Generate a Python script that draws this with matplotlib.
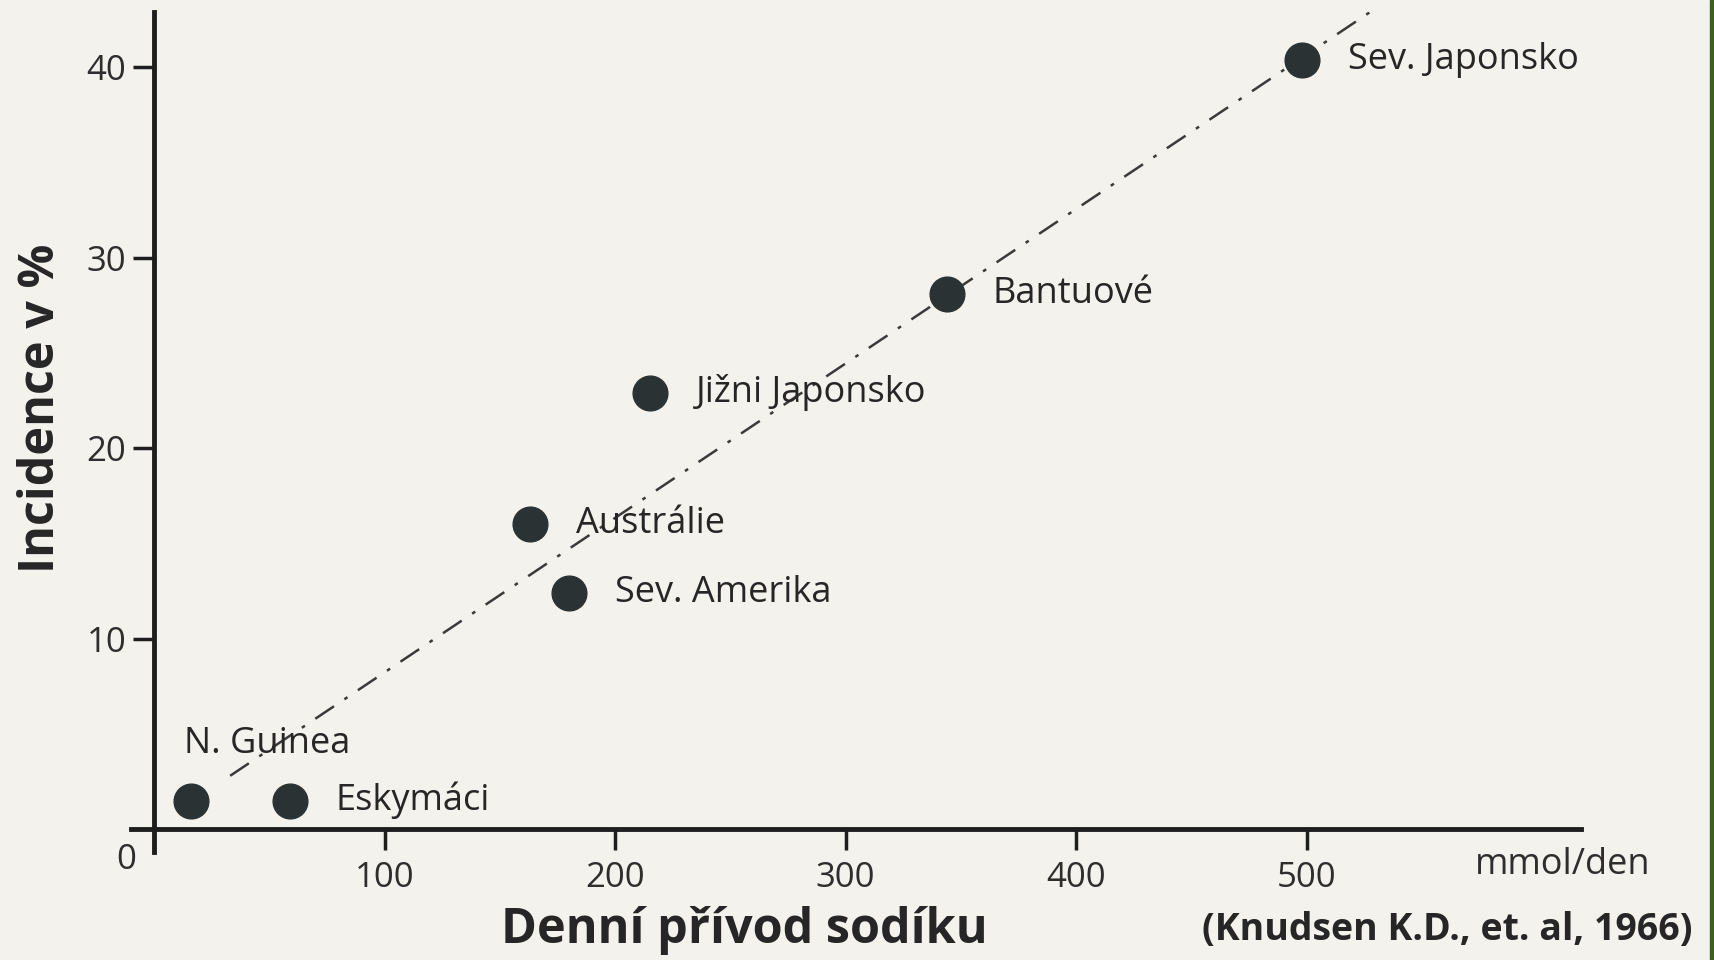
import matplotlib
matplotlib.use('Agg')
import matplotlib.pyplot as plt
from matplotlib.patches import Rectangle

# data
sodium = [16, 59, 163, 180, 215, 344, 498]
incidence = [1.5, 1.5, 16.0, 12.4, 22.9, 28.1, 40.4]
names = ['N. Guinea', 'Eskymáci', 'Austrálie', 'Sev. Amerika',
         'Jižni Japonsko', 'Bantuové', 'Sev. Japonsko']

# trend line end points
trend_x = [33, 530]
trend_y = [2.8, 43.1]

x_ticks = [100, 200, 300, 400, 500]
y_ticks = [10, 20, 30, 40]

bg = '#f3f2ec'
ink = '#262626'
plt.rcParams['font.family'] = ['Open Sans', 'DejaVu Sans']

fig = plt.figure(figsize=(17.15, 9.6), dpi=100, facecolor=bg)
ax = fig.add_axes([0.0764, 0.1125, 0.8455, 0.875])
ax.set_facecolor(bg)

ax.plot(trend_x, trend_y, color='#3a3a3a', lw=1.8,
        linestyle=(0, (9, 5, 1.5, 5)), zorder=1)
ax.plot(sodium, incidence, 'o', ms=25, color='#2b3234', zorder=3)

# point labels
for name, x, y in zip(names, sodium, incidence):
    if name == 'N. Guinea':
        off = (-5, 41)
    else:
        off = (33, 0)
    ax.annotate(name, (x, y), xytext=off, textcoords='offset points',
                ha='left', va='center', fontsize=26, color=ink)

ax.set_xlim(-10, 619)
ax.set_ylim(-1.2, 42.9)

for s in ['top', 'right']:
    ax.spines[s].set_visible(False)
ax.spines['left'].set_position(('data', 0))
ax.spines['bottom'].set_position(('data', 0))
for s in ['left', 'bottom']:
    ax.spines[s].set_linewidth(3.5)
    ax.spines[s].set_color('#1e1e1e')

ax.set_xticks(x_ticks)
ax.set_yticks(y_ticks)
ax.tick_params(axis='both', direction='out', length=15, width=2.5,
               color='#1e1e1e', labelsize=25, labelcolor='#2e2e2e')
ax.tick_params(axis='x', pad=8)
ax.tick_params(axis='y', pad=5)

ax.text(-12, -1.6, '0', ha='center', va='center', fontsize=25,
        color='#2e2e2e', clip_on=False)
ax.text(611, -1.9, 'mmol/den', ha='center', va='center', fontsize=26,
        color='#2e2e2e', clip_on=False)

fig.text(0.024, 0.575, 'Incidence v %', rotation=90, ha='center', va='center',
         fontsize=35, fontweight='bold', color=ink)
fig.text(0.434, 0.031, 'Denní přívod sodíku', ha='center', va='center',
         fontsize=35, fontweight='bold', color=ink)
fig.text(0.844, 0.031, '(Knudsen K.D., et. al, 1966)', ha='center', va='center',
         fontsize=27, fontweight='bold', color=ink)

# green strip at right edge
fig.patches.append(Rectangle((1710 / 1715, 0), 5 / 1715, 1,
                             transform=fig.transFigure, color='#3d5f1f'))

fig.savefig('out.png', dpi=100, facecolor=bg)
